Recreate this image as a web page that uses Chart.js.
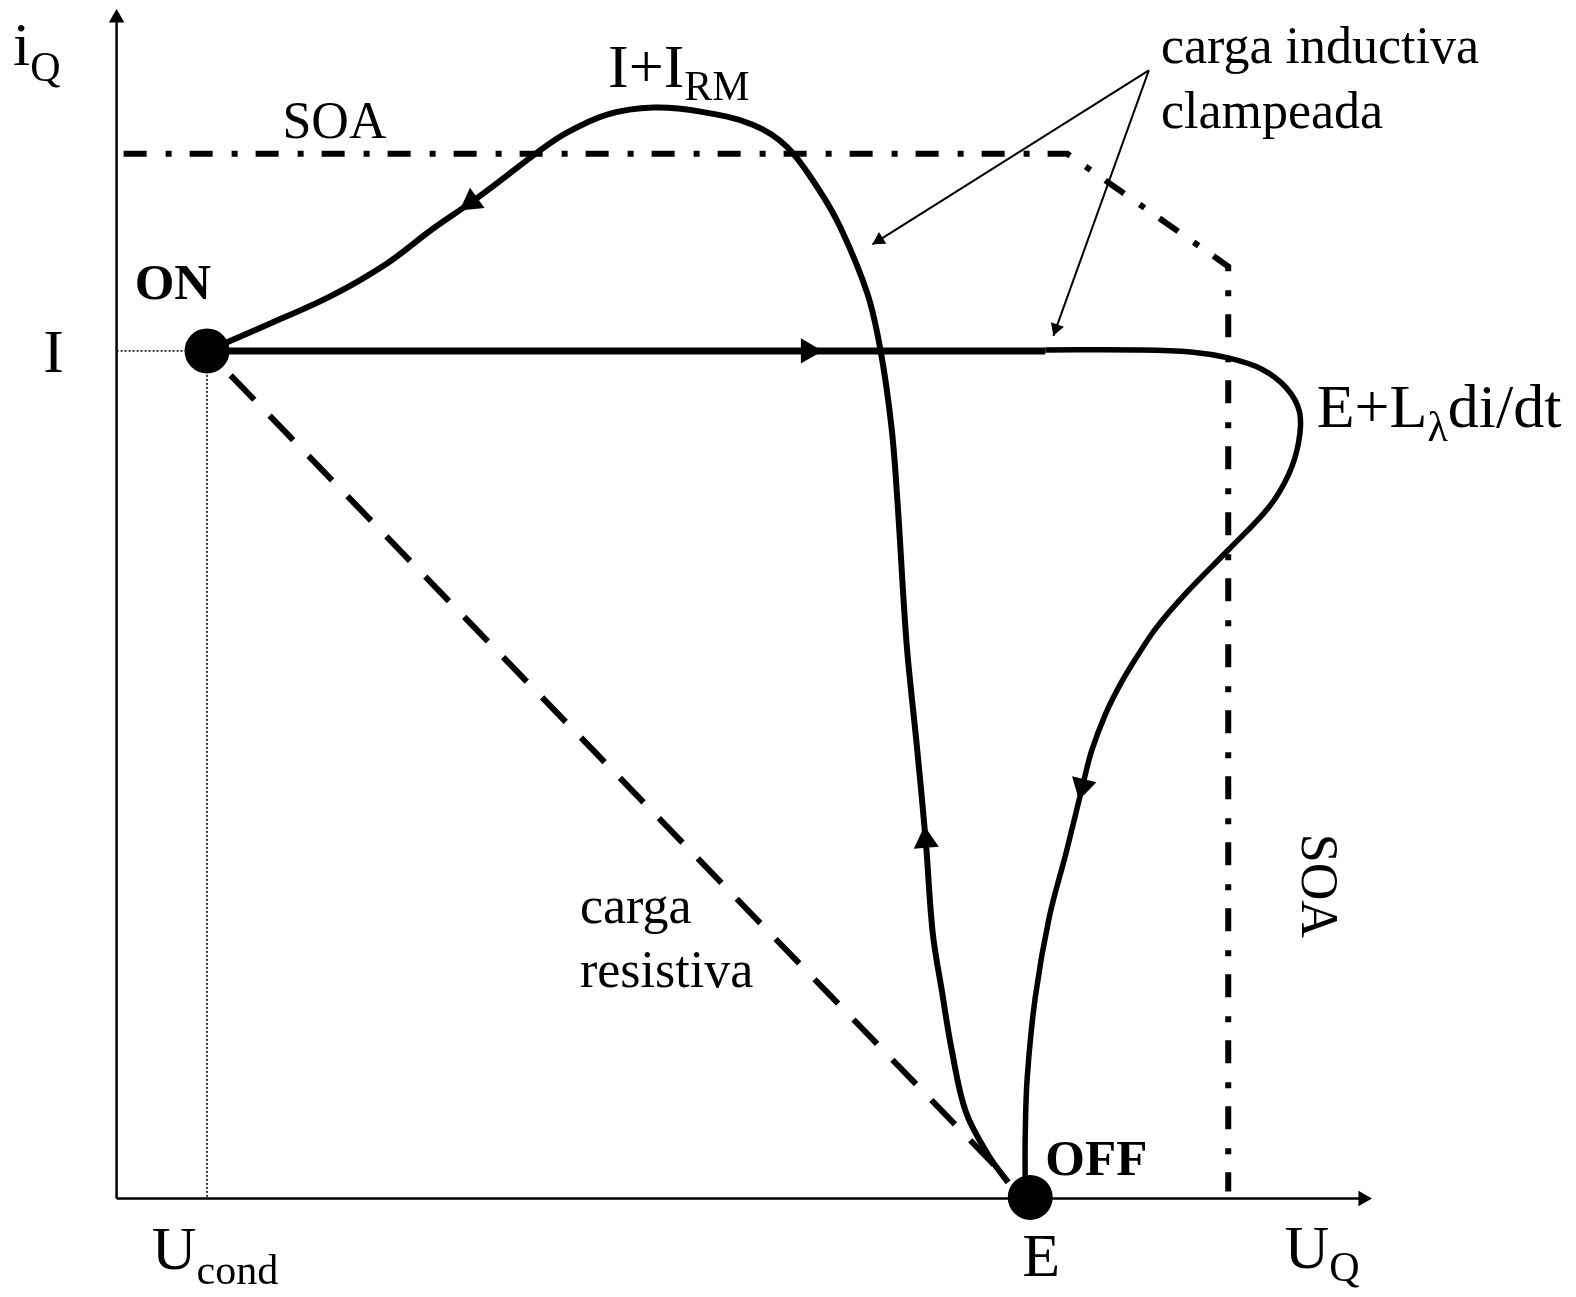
<!DOCTYPE html>
<html>
<head>
<meta charset="utf-8">
<script src="https://cdn.jsdelivr.net/npm/chart.js@4.4.1/dist/chart.umd.min.js"></script>
<style>
  html, body { margin: 0; padding: 0; background: #ffffff; }
  #c { display: block; }
</style>
</head>
<body>
<canvas id="c" width="1576" height="1297"></canvas>
<script>
// Switching trajectories of a transistor in the (U_Q, i_Q) plane.
// Coordinates are in diagram units: x = voltage U_Q, y = current i_Q.

// Operating points
const onPoint  = [90, 843];   // (U_cond, I)
const offPoint = [909, 1];    // (E, 0)

// Axes
const uAxis = [[0, 0], [1240, 0]];
const iAxis = [[0, 0], [0, 1174]];
const uAxisTip = [1249, 0];
const iAxisTip = [0, 1183];

// Dotted guides from ON to both axes
const guideI = [[0, 843], [90, 843]];
const guideU = [[90, 843], [90, 0]];

// Safe operating area boundary
const soaBoundary = [[7, 1039], [946, 1039], [1106, 927], [1106, 7]];

// Resistive load: straight path ON -> OFF
const resistivePath = [[90, 843], [885, 21]];

// Clamped inductive load, turn-off: current stays at I, then voltage overshoot E + L di/dt
const turnOffFlat = [[90, 843], [688, 843], [924, 843]];
const turnOffCurve = [
  [924, 844], [1014, 844], [1069, 842], [1106, 836], [1139, 825], [1164, 806],
  [1177, 782], [1176, 752], [1166, 720], [1146, 687], [1106, 645], [1064, 602],
  [1034, 567], [1014, 537], [999, 512], [984, 482], [970, 445], [961, 410],
  [945, 345], [928, 280], [914, 200], [906, 120], [904, 60], [904, 12]
];
const turnOffArrowIndex = 17;

// Clamped inductive load, turn-on: current rises with reverse-recovery peak I + I_RM
const turnOnCurve = [
  [887, 16], [868, 42], [845, 86], [831, 147], [821, 207], [812, 264],
  [805, 356], [796, 452], [786, 552], [777, 692], [771, 767],
  [760, 844], [747, 900], [720, 966], [697, 1006], [667, 1046], [633, 1068],
  [581, 1081], [534, 1085], [488, 1078], [448, 1060], [418, 1040], [384, 1014],
  [353, 991], [314, 964], [269, 930], [214, 898], [150, 869], [90, 843]
];
const turnOnArrowIndices = [6, 23];

// Leader lines for the "carga inductiva clampeada" note
const leaderOrigin = [1027, 1122];
const leaderTips = [[752, 949], [932, 858]];

// Text annotations (diagram units for anchor, runs of text with font role)
const textMarks = [
  { at: [-103, 1127], runs: [['i', 'sym'], ['Q', 'sub', 16]] },
  { at: [165, 1055], runs: [['SOA', 'word']] },
  { at: [489, 1105], runs: [['I+I', 'sym'], ['RM', 'sub', 13]] },
  { at: [1039, 1129], runs: [['carga inductiva', 'word']] },
  { at: [1039, 1065], runs: [['clampeada', 'word']] },
  { at: [18, 895], runs: [['ON', 'bold']] },
  { at: [-73, 822], runs: [['I', 'sym']] },
  { at: [1194, 767], runs: [['E+L', 'sym'], ['λ', 'sub', 14], ['di/dt', 'sym']] },
  { at: [1196, 311], rotate: 90, runs: [['SOA', 'word']] },
  { at: [461, 274], runs: [['carga', 'word']] },
  { at: [461, 210], runs: [['resistiva', 'word']] },
  { at: [924, 23], runs: [['OFF', 'bold']] },
  { at: [901, -77], runs: [['E', 'sym']] },
  { at: [35, -70], runs: [['U', 'sym'], ['cond', 'sub', 15]] },
  { at: [1162, -69], runs: [['U', 'sym'], ['Q', 'sub', 13]] }
];

const fonts = {
  sym: '62px "Liberation Serif", "Times New Roman", serif',
  sub: '42px "Liberation Serif", "Times New Roman", serif',
  word: '52px "Liberation Serif", "Times New Roman", serif',
  bold: 'bold 51px "Liberation Serif", "Times New Roman", serif'
};

// ---- helpers ----
const pts = arr => arr.map(([x, y]) => ({ x, y }));

function path(arr, width, extra) {
  return Object.assign({
    data: pts(arr),
    showLine: true,
    borderColor: '#000',
    backgroundColor: '#000',
    borderWidth: width,
    pointRadius: 0,
    pointHoverRadius: 0,
    fill: false,
    tension: 0,
    borderCapStyle: 'butt',
    borderJoinStyle: 'round'
  }, extra || {});
}

function rotationOf(dx, dy) {
  return Math.atan2(dx, dy) * 180 / Math.PI;
}

// arrowhead whose tip touches `tip`, pointing away from `from`
function headAtTip(tip, from, r) {
  const dx = tip[0] - from[0], dy = tip[1] - from[1];
  const L = Math.hypot(dx, dy);
  return { x: tip[0] - r * dx / L, y: tip[1] - r * dy / L, rot: rotationOf(dx, dy) };
}

// arrowhead centred on a curve vertex, following the curve direction
function headOnCurve(curve, i) {
  const a = curve[i - 1], b = curve[i + 1];
  return { x: curve[i][0], y: curve[i][1], rot: rotationOf(b[0] - a[0], b[1] - a[1]) };
}

function heads(list, r) {
  return {
    data: list,
    showLine: false,
    pointStyle: 'triangle',
    pointRadius: r,
    pointHoverRadius: r,
    pointRotation: ctx => (ctx.raw ? ctx.raw.rot : 0),
    backgroundColor: '#000',
    borderColor: '#000',
    borderWidth: 0
  };
}

const curveHeads = [
  headOnCurve(turnOffFlat, 1),
  headOnCurve(turnOffCurve, turnOffArrowIndex),
  ...turnOnArrowIndices.map(i => headOnCurve(turnOnCurve, i))
];
const axisHeads = [
  headAtTip(uAxisTip, uAxis[0], 9),
  headAtTip(iAxisTip, iAxis[0], 9)
];
const leaderHeads = leaderTips.map(t => headAtTip(t, leaderOrigin, 8));

const datasets = [
  // state dots
  { data: pts([onPoint, offPoint]), showLine: false, pointStyle: 'circle',
    pointRadius: 22.5, pointHoverRadius: 22.5, backgroundColor: '#000', borderColor: '#000', borderWidth: 0 },
  heads(curveHeads, 14.5),
  heads(axisHeads, 9),
  heads(leaderHeads, 8),
  // trajectories
  path(turnOffFlat, 7),
  path(turnOffCurve, 5.5, { tension: 0.35 }),
  path(turnOnCurve, 6, { tension: 0.35 }),
  path(resistivePath, 6, { borderDash: [34, 22], borderDashOffset: 22 }),
  path(soaBoundary, 6, { borderDash: [23, 19, 6, 18], borderJoinStyle: 'miter' }),
  // leaders
  path([leaderOrigin, leaderTips[0]], 2),
  path([leaderOrigin, leaderTips[1]], 2),
  // guides
  path(guideI, 1.5, { borderDash: [2, 2] }),
  path(guideU, 1.5, { borderDash: [2, 2] }),
  // axes
  path(uAxis, 2.5),
  path(iAxis, 2.5)
];

const diagramText = {
  id: 'diagramText',
  afterDatasetsDraw(chart) {
    const { ctx } = chart;
    const xs = chart.scales.x, ys = chart.scales.y;
    ctx.save();
    ctx.fillStyle = '#000';
    ctx.textAlign = 'left';
    ctx.textBaseline = 'alphabetic';
    for (const m of textMarks) {
      const px = xs.getPixelForValue(m.at[0]);
      const py = ys.getPixelForValue(m.at[1]);
      if (m.rotate) {
        ctx.save();
        ctx.translate(px, py);
        ctx.rotate(m.rotate * Math.PI / 180);
        let w = 0;
        for (const [t, kind] of m.runs) { ctx.font = fonts[kind]; w += ctx.measureText(t).width; }
        let cx = -w / 2;
        for (const [t, kind, dy] of m.runs) {
          ctx.font = fonts[kind];
          ctx.fillText(t, cx, 17 + (dy || 0));
          cx += ctx.measureText(t).width;
        }
        ctx.restore();
      } else {
        let cx = px;
        for (const [t, kind, dy] of m.runs) {
          ctx.font = fonts[kind];
          ctx.fillText(t, cx, py + (dy || 0));
          cx += ctx.measureText(t).width;
        }
      }
    }
    ctx.restore();
  }
};

new Chart(document.getElementById('c'), {
  type: 'scatter',
  data: { datasets },
  options: {
    responsive: false,
    animation: false,
    events: [],
    layout: { padding: 0, autoPadding: false },
    plugins: { legend: { display: false }, tooltip: { enabled: false } },
    scales: {
      x: { type: 'linear', min: -116, max: 1452, display: false },
      y: { type: 'linear', min: -98, max: 1192, display: false }
    }
  },
  plugins: [diagramText]
});
</script>
</body>
</html>
